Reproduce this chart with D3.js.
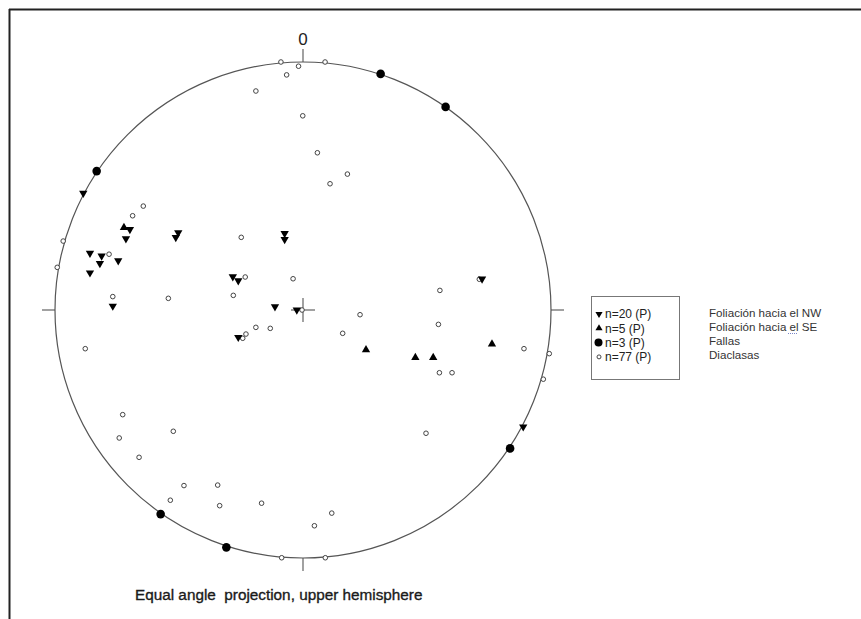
<!DOCTYPE html>
<html>
<head>
<meta charset="utf-8">
<script src="https://cdn.jsdelivr.net/npm/d3@7"></script>
<style>
  html, body { margin: 0; padding: 0; background: #fff; }
  svg { display: block; }
</style>
</head>
<body>
<script>
// Projected pole positions (equal angle net, unit radius; x = East, y = North)
const foliationNW = [
  [-0.886, 0.471], [-0.698, 0.325], [-0.714, 0.288], [-0.503, 0.312], [-0.513, 0.293],
  [-0.074, 0.309], [-0.074, 0.285], [-0.859, 0.229], [-0.812, 0.218], [-0.819, 0.188],
  [-0.745, 0.199], [-0.859, 0.150], [-0.283, 0.134], [-0.261, 0.118], [-0.767, 0.016],
  [-0.113, 0.013], [-0.025, 0.000], [0.722, 0.125], [-0.261, -0.110], [0.888, -0.471]
];
const foliationSE = [
  [-0.722, 0.332], [0.254, -0.161], [0.453, -0.192], [0.525, -0.192], [0.762, -0.137]
];
const faults = [
  [-0.832, 0.560], [0.313, 0.952], [0.575, 0.819], [0.835, -0.558], [-0.574, -0.823], [-0.309, -0.957]
];
const joints = [
  [-0.089, 1.000], [-0.018, 0.983], [0.089, 1.000], [-0.066, 0.948], [-0.190, 0.883],
  [-0.001, 0.783], [0.058, 0.634], [0.179, 0.548], [0.109, 0.509], [-0.644, 0.419],
  [-0.687, 0.380], [-0.967, 0.278], [-0.991, 0.172], [-0.249, 0.293], [-0.782, 0.225],
  [-0.233, 0.133], [-0.040, 0.126], [-0.767, 0.054], [-0.543, 0.047], [-0.281, 0.059],
  [0.711, 0.124], [0.552, 0.079], [0.230, -0.019], [-0.004, 0.000], [-0.878, -0.156],
  [-0.243, -0.114], [-0.230, -0.097], [-0.190, -0.070], [-0.132, -0.074], [0.160, -0.094],
  [0.546, -0.058], [0.891, -0.156], [0.993, -0.176], [0.550, -0.253], [0.601, -0.253],
  [0.969, -0.279], [0.496, -0.497], [-0.727, -0.422], [-0.741, -0.516], [-0.523, -0.489],
  [-0.661, -0.594], [-0.480, -0.708], [-0.344, -0.706], [-0.535, -0.767], [-0.336, -0.789],
  [-0.167, -0.779], [0.116, -0.819], [0.046, -0.870], [-0.086, -0.999], [0.090, -0.999]
];
const legendLabels = ["n=20 (P)", "n=5 (P)", "n=3 (P)", "n=77 (P)"];
const seriesNames = ["Foliación hacia el NW", "Foliación hacia el SE", "Fallas", "Diaclasas"];
const northLabel = "0";
const caption = "Equal angle\u00a0\u00a0projection, upper hemisphere";

const W = 861, H = 619;
const cx = 303, cy = 310, R = 248;

const svg = d3.select("body").append("svg").attr("width", W).attr("height", H);

const x = d3.scaleLinear().domain([-1, 1]).range([cx - R, cx + R]);
const y = d3.scaleLinear().domain([-1, 1]).range([cy + R, cy - R]);

// frame
svg.append("line").attr("x1", 9).attr("x2", W).attr("y1", 9.5).attr("y2", 9.5)
  .attr("stroke", "#222").attr("stroke-width", 2);
svg.append("line").attr("x1", 9.5).attr("x2", 9.5).attr("y1", 9).attr("y2", H)
  .attr("stroke", "#222").attr("stroke-width", 2);

// primitive circle
svg.append("circle").attr("cx", x(0)).attr("cy", y(0)).attr("r", x(1) - x(0))
  .attr("fill", "none").attr("stroke", "#555").attr("stroke-width", 1.2);

// ticks
const tk = 13;
const tickG = svg.append("g").attr("stroke", "#555").attr("stroke-width", 1.1);
tickG.append("line").attr("x1", x(0)).attr("x2", x(0)).attr("y1", y(1)).attr("y2", y(1) - tk);
tickG.append("line").attr("x1", x(0)).attr("x2", x(0)).attr("y1", y(-1)).attr("y2", y(-1) + tk);
tickG.append("line").attr("x1", x(-1)).attr("x2", x(-1) - tk).attr("y1", y(0)).attr("y2", y(0));
tickG.append("line").attr("x1", x(1)).attr("x2", x(1) + tk).attr("y1", y(0)).attr("y2", y(0));
// centre cross
tickG.append("line").attr("x1", x(0) - 12).attr("x2", x(0) + 12).attr("y1", y(0)).attr("y2", y(0));
tickG.append("line").attr("x1", x(0)).attr("x2", x(0)).attr("y1", y(0) - 12).attr("y2", y(0) + 12);

svg.append("text").attr("x", x(0)).attr("y", y(1) - 17).attr("text-anchor", "middle")
  .attr("font-family", "Liberation Sans, Arial, sans-serif").attr("font-size", 17)
  .attr("fill", "#222").text(northLabel);

const tri = d3.symbol().type(d3.symbolTriangle).size(30);

// joints
svg.append("g").selectAll("circle").data(joints).join("circle")
  .attr("cx", d => x(d[0])).attr("cy", d => y(d[1])).attr("r", 2.3)
  .attr("fill", "#fff").attr("stroke", "#444").attr("stroke-width", 1);

// faults
svg.append("g").selectAll("circle").data(faults).join("circle")
  .attr("cx", d => x(d[0])).attr("cy", d => y(d[1])).attr("r", 4.3)
  .attr("fill", "#000");

// foliation NW (down triangles)
svg.append("g").selectAll("path").data(foliationNW).join("path")
  .attr("d", tri)
  .attr("transform", d => `translate(${x(d[0])},${y(d[1])}) rotate(180)`)
  .attr("fill", "#000");

// foliation SE (up triangles)
svg.append("g").selectAll("path").data(foliationSE).join("path")
  .attr("d", tri)
  .attr("transform", d => `translate(${x(d[0])},${y(d[1])})`)
  .attr("fill", "#000");

// legend box
const lg = svg.append("g");
lg.append("rect").attr("x", 591.5).attr("y", 296.5).attr("width", 88).attr("height", 83)
  .attr("fill", "#fff").attr("stroke", "#777").attr("stroke-width", 1);
const rowY = i => 314 + i * 14.3;
legendLabels.forEach((t, i) => {
  const yy = rowY(i);
  if (i === 0) lg.append("path").attr("d", d3.symbol().type(d3.symbolTriangle).size(22))
    .attr("transform", `translate(599,${yy}) rotate(180)`).attr("fill", "#000");
  if (i === 1) lg.append("path").attr("d", d3.symbol().type(d3.symbolTriangle).size(22))
    .attr("transform", `translate(599,${yy})`).attr("fill", "#000");
  if (i === 2) lg.append("circle").attr("cx", 598.5).attr("cy", yy).attr("r", 4).attr("fill", "#000");
  if (i === 3) lg.append("circle").attr("cx", 599).attr("cy", yy).attr("r", 2).attr("fill", "#fff")
    .attr("stroke", "#444").attr("stroke-width", 1);
  lg.append("text").attr("x", 605).attr("y", yy + 4.3)
    .attr("font-family", "Liberation Sans, Arial, sans-serif").attr("font-size", 12)
    .attr("fill", "#222").text(t);
});

// series names
seriesNames.forEach((t, i) => {
  svg.append("text").attr("x", 709).attr("y", 317 + i * 14)
    .attr("font-family", "Liberation Sans, Arial, sans-serif").attr("font-size", 11.6)
    .attr("fill", "#333").text(t);
});
// dotted underline under "el" (spell-check mark)
svg.append("line").attr("x1", 788).attr("x2", 797).attr("y1", 333.5).attr("y2", 333.5)
  .attr("stroke", "#7a86c8").attr("stroke-width", 1).attr("stroke-dasharray", "1,1");

// caption
svg.append("text").attr("x", 135).attr("y", 600)
  .attr("font-family", "Liberation Sans, Arial, sans-serif").attr("font-size", 15.3)
  .attr("fill", "#1a1a1a").attr("stroke", "#1a1a1a").attr("stroke-width", 0.35)
  .text(caption);
</script>
</body>
</html>
